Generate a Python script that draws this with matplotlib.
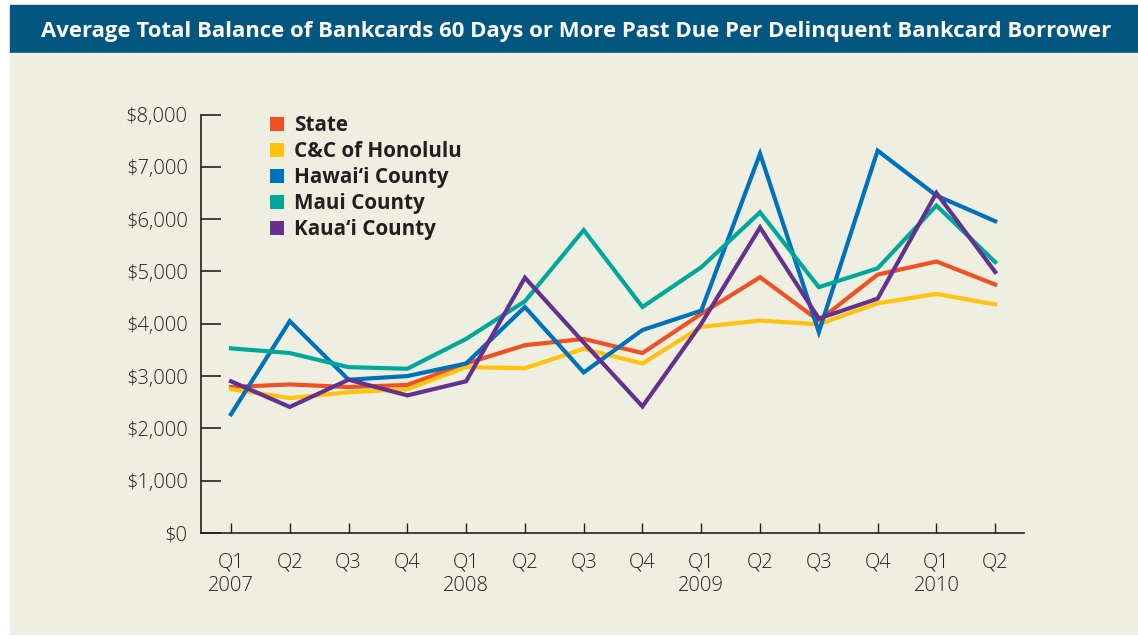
import matplotlib.pyplot as plt
from matplotlib.lines import Line2D
from matplotlib.patches import Rectangle

quarters = ["Q1\n2007", "Q2", "Q3", "Q4", "Q1\n2008", "Q2", "Q3", "Q4",
            "Q1\n2009", "Q2", "Q3", "Q4", "Q1\n2010", "Q2"]

state = [2790, 2840, 2790, 2830, 3240, 3590, 3710, 3440, 4190, 4890, 4060, 4940, 5190, 4750]
honolulu = [2750, 2580, 2690, 2750, 3170, 3150, 3520, 3240, 3940, 4060, 3990, 4390, 4570, 4370]
hawaii = [2270, 4050, 2930, 3000, 3240, 4320, 3070, 3880, 4250, 7250, 3840, 7310, 6450, 5960]
maui = [3530, 3440, 3170, 3140, 3710, 4430, 5790, 4320, 5080, 6130, 4700, 5060, 6260, 5180]
kauai = [2900, 2410, 2930, 2630, 2900, 4880, 3640, 2420, 4000, 5840, 4100, 4480, 6500, 4990]

series = ["State", "C&C of Honolulu", "Hawai\u2018i County", "Maui County", "Kaua\u2018i County"]
colors = ["#f05023", "#ffc20e", "#0071bb", "#00a79d", "#65318f"]

plt.rcParams['font.family'] = ['Open Sans', 'DejaVu Sans']

fig = plt.figure(figsize=(11.38, 6.39), dpi=100)
fig.patch.set_facecolor("white")

# title band and beige panel
fig.add_artist(Rectangle((10 / 1138, (639 - 53) / 639), 1128 / 1138, 48 / 639,
                         transform=fig.transFigure, color="#03567f", zorder=0))
fig.add_artist(Rectangle((10 / 1138, (639 - 634) / 639), 1128 / 1138, 581 / 639,
                         transform=fig.transFigure, color="#efefe1", zorder=0))
fig.text(576 / 1138, (639 - 32) / 639,
         "Average Total Balance of Bankcards 60 Days or More Past Due Per Delinquent Bankcard Borrower",
         color="white", fontsize=15.9, fontweight="bold", ha="center", va="center")

ax = fig.add_axes([201 / 1138, (639 - 533) / 639, 823 / 1138, 418.5 / 639])
ax.set_facecolor("none")

x = list(range(len(quarters)))
for vals, c in zip([state, honolulu, hawaii, maui, kauai], colors):
    ax.plot(x, vals, color=c, lw=3, solid_joinstyle="miter")

ax.set_xlim(-0.51, 13.49)
ax.set_ylim(0, 8000)
ax.set_yticks(range(0, 8001, 1000))
ax.set_yticklabels([f"${v:,}" for v in range(0, 8001, 1000)])
ax.set_xticks(x)
ax.set_xticklabels(quarters, linespacing=1.25)

for s in ["top", "right"]:
    ax.spines[s].set_visible(False)
for s in ["left", "bottom"]:
    ax.spines[s].set_color("#231f20")
    ax.spines[s].set_linewidth(1.2)

ax.tick_params(axis="y", direction="in", length=14.5, width=1.2, color="#231f20",
               pad=9.5, labelsize=14.5, labelcolor="#231f20")
ax.tick_params(axis="x", direction="in", length=7, width=1.0, color="#231f20",
               pad=14, labelsize=14.5, labelcolor="#231f20")
for lab in ax.get_xticklabels() + ax.get_yticklabels():
    lab.set_fontweight("light")

handles = [Line2D([], [], marker="s", ls="", color=c, markersize=10.5, markeredgewidth=0)
           for c in colors]
leg = ax.legend(handles, series, loc="upper left", bbox_to_anchor=(0.067, 1.023),
                frameon=False, borderpad=0, handlelength=1.0, handletextpad=0.33,
                labelspacing=0.24, prop={"size": 14.9, "weight": "bold"})
for t in leg.get_texts():
    t.set_color("#231f20")

fig.savefig("out.png", dpi=100)
